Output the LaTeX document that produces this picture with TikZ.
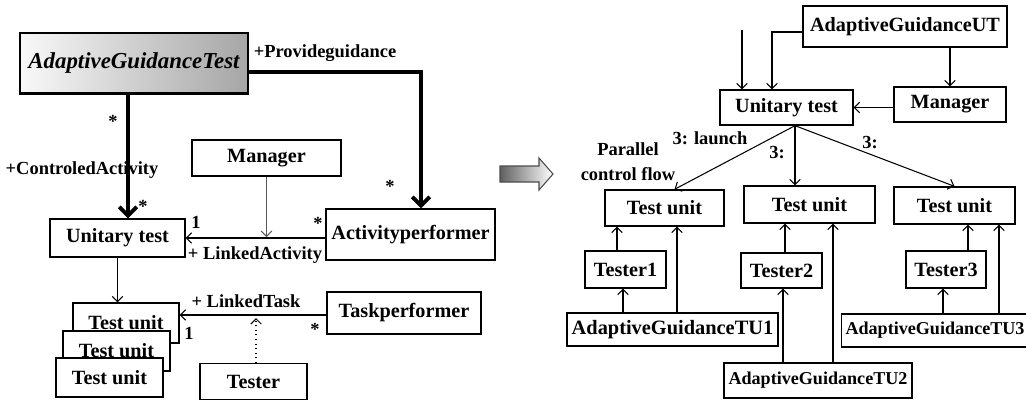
\documentclass[tikz,border=0pt]{standalone}
\usepackage{fontspec}
\setmainfont{Liberation Serif}
\usetikzlibrary{arrows.meta,calc}

\tikzset{
  box/.style 2 args={draw, line width=0.75pt, inner sep=0pt,
    minimum width=#1*0.02cm, minimum height=#2*0.02cm,
    font=\fontsize{11.5}{13}\selectfont\bfseries},
  lbl/.style={inner sep=0pt, font=\fontsize{10.5}{13}\selectfont\bfseries},
  conn/.style={line width=0.6pt, -{Straight Barb[length=3pt,width=6pt]}},
  heavy/.style={line width=2.2pt, -{Straight Barb[length=5pt,width=10pt]}},
}

\begin{document}
\begin{tikzpicture}[%
      x=0.02cm, y=-0.02cm,
      ]
      \useasboundingbox (0,0) rectangle (1026,400);

      % class diagram
      \node[box={228}{60}, line width=1.7pt, left color=gray!5, right color=gray!70,
            font=\fontsize{13}{15}\selectfont\bfseries\itshape] (agt) at (134,63) {AdaptiveGuidanceTest};
      \node[box={149}{36}] (man) at (266.5,158) {Manager};
      \node[box={135}{38}] (ut) at (117.5,238) {Unitary test};
      \node[box={169}{51}] (ap) at (410.5,234.5) {Activityperformer};
      \node[box={106}{40}, fill=white] (tuc) at (126,323) {Test unit};
      \node[box={107}{40}, fill=white] (tub) at (116.5,351) {Test unit};
      \node[box={107}{39}, fill=white] (tua) at (109.5,377.5) {Test unit};
      \node[box={154}{42}] (tp) at (404,313) {Taskperformer};
      \node[box={107}{36}] (tst) at (253.5,381.5) {Tester};

      \draw[heavy] ($(agt.east)+(0,9)$) -| (421,0 |- ap.north);
      \draw[heavy] (128,0 |- agt.south) -- (128,0 |- ut.north);
      \draw[conn] (ap.west |- 0,238) -- (ut.east |- 0,238);
      \draw[conn, gray!70!black] (man.south) -- (man.south |- 0,237);
      \draw[conn] (ut.south) -- (ut.south |- tuc.north);
      \draw[conn] (tp.west |- 0,315) -- (tuc.east |- 0,315);
      \draw[conn, dotted] (256,0 |- tst.north) -- (256,318);

      \node[lbl] (l1) at (325,53) {+Provideguidance};
      \node[lbl] (l2) at (113,121) {*};
      \node[lbl] (l3) at (82,170) {+ControledActivity};
      \node[lbl] (l4) at (143,206) {*};
      \node[lbl] (l5) at (390,186) {*};
      \node[lbl] (l6) at (196,222) {1};
      \node[lbl] (l7) at (318,223) {*};
      \node[lbl] (l8) at (255,255) {+ LinkedActivity};
      \node[lbl] (l9) at (246,301) {+ LinkedTask};
      \node[lbl] (l10) at (189,333) {1};
      \node[lbl] (l11) at (315,329) {*};

      % transformation arrow
      \shade[left color=gray!75!black, right color=white, draw=gray!60!black, line width=0.6pt]
        (500,166) -- (539,166) -- (539,158) -- (553,174) -- (539,190) -- (539,182) -- (500,182) -- cycle;

      % communication diagram
      \node[box={204}{41}] (agut) at (905,26.5) {AdaptiveGuidanceUT};
      \node[box={133}{35}] (rut) at (786.5,107.5) {Unitary test};
      \node[box={112}{35}] (rman) at (950,104.5) {Manager};
      \node[box={119}{36}] (tuA) at (664.5,208) {Test unit};
      \node[box={131}{37}] (tuB) at (809.5,204.5) {Test unit};
      \node[box={121}{37}] (tuC) at (954.5,205.5) {Test unit};
      \node[box={81}{37}] (tst1) at (625.5,269.5) {Tester1};
      \node[box={81}{35}] (tst2) at (781.5,270.5) {Tester2};
      \node[box={80}{37}] (tst3) at (946,269.5) {Tester3};
      \node[box={211}{33}, font=\fontsize{11.6}{13}\selectfont\bfseries] (agtu1) at (672.5,329.5) {AdaptiveGuidanceTU1};
      \node[box={188}{35}, font=\fontsize{10.3}{13}\selectfont\bfseries] (agtu2) at (818,380.5) {AdaptiveGuidanceTU2};
      \node[box={187}{33}, font=\fontsize{10.3}{13}\selectfont\bfseries] (agtu3) at (935,330.5) {AdaptiveGuidanceTU3};

      \coordinate (inA) at (742,30);
      \coordinate (fan) at (795,0 |- rut.south);
      \draw[conn] (inA) -- (inA |- rut.north);
      \draw[conn] ($(agut.west)+(0,5.5)$) -| (772,0 |- rut.north);
      \draw[conn] (rman.north |- agut.south) -- (rman.north);
      \draw[conn] (rman.west |- rut.east) -- (rut.east);
      \draw[conn] (fan) -- ($(tuA.north)+(10,0)$);
      \draw[conn] (fan) -- (fan |- tuB.north);
      \draw[conn] (fan) -- (tuC.north);
      \draw[conn] (617,0 |- tst1.north) -- (617,0 |- tuA.south);
      \draw[conn] (623,0 |- agtu1.north) -- (623,0 |- tst1.south);
      \draw[conn] (677,0 |- agtu1.north) -- (677,0 |- tuA.south);
      \draw[conn] (785,0 |- tst2.north) -- (785,0 |- tuB.south);
      \draw[conn] (783,0 |- agtu2.north) -- (783,0 |- tst2.south);
      \draw[conn] (833,0 |- agtu2.north) -- (833,0 |- tuB.south);
      \draw[conn] (968,0 |- tst3.north) -- (968,0 |- tuC.south);
      \draw[conn] (943,0 |- agtu3.north) -- (943,0 |- tst3.south);
      \draw[conn] (999,0 |- agtu3.north) -- (999,0 |- tuC.south);

      \node[lbl] (r1) at (710,138) {3: launch};
      \node[lbl, align=center, font=\fontsize{10.5}{14.2}\selectfont\bfseries] (r2) at (628,162) {Parallel\\control flow};
      \node[lbl] (r3) at (777,153) {3:};
      \node[lbl] (r4) at (870,143) {3:};
\end{tikzpicture}
\end{document}
